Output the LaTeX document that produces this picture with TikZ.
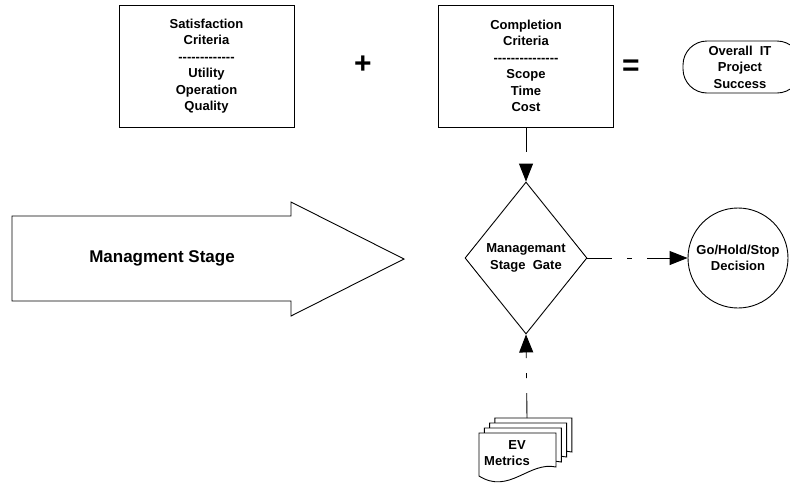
\documentclass[tikz,border=0pt]{standalone}
\usepackage{fontspec}
\setmainfont{Liberation Sans}[Ligatures=TeXOff]
\usetikzlibrary{shapes.geometric, arrows.meta}

\begin{document}
\begin{tikzpicture}[x=1pt, y=-1pt, line width=0.9pt,
	every node/.style={font=\bfseries\fontsize{13}{16.5}\selectfont, align=center},
	criteria/.style={draw, minimum width=175pt, minimum height=122pt, inner sep=0pt},
	sign/.style={font=\bfseries\fontsize{30}{30}\selectfont},
	flow/.style={-{Triangle[length=18pt,width=14pt]}, dash pattern=on 25pt off 15pt on 5pt off 15pt}]
			\useasboundingbox (0,0) rectangle (790,483);
			
			% the two sets of criteria add up to success
			\node[criteria] (satisfaction) at (206.5,66) {Satisfaction\\Criteria\\-------------\\Utility\\Operation\\Quality};
			\node[sign] (plus) at (363,65) {+};
			\node[criteria] (completion) at (526,66) {Completion\\Criteria\\---------------\\Scope\\Time\\Cost};
			\node[sign] (equals) at (631,68) {=};
			\node[draw, rounded corners=24pt, minimum width=118pt, minimum height=52pt, inner sep=0pt] (success) at (742,67) {\hspace*{-4pt}Overall\ \ IT\\\hspace*{-4pt}Project\\\hspace*{-4pt}Success};
			
			% stage arrow
			\draw (12,216) -- (291,216) -- (291,202) -- (404,259) -- (291,316) -- (291,301) -- (12,301) -- cycle;
			\node[font=\bfseries\fontsize{17}{20}\selectfont] (stage) at (162,258) {Managment Stage};
			
			% gate and decision
			\node[draw, diamond, aspect=0.8, minimum width=122pt, minimum height=152pt, inner sep=0pt] (gate) at (526,258) {Managemant\\Stage\ \ Gate};
			\node[draw, circle, minimum size=100pt, inner sep=0pt] (decision) at (738,258) {Go/Hold/Stop\\Decision};
			
			% stack of EV documents, back to front
			\foreach \k in {3,2,1,0}
				\draw[fill=white, shift={({479+5.3*\k},{433-5*\k})}] (0,0) -- (77,0) -- (77,34) .. controls (50,28) and (30,62) .. (0,43) -- cycle;
			\node (metrics) at (507,453) {\hspace*{20pt}EV\\Metrics};
			\coordinate (stacktop) at (527,418);
			
			\draw[flow] (completion.south) -- (gate.north);
			\draw[flow] (gate.east) -- (decision.west);
			\draw[flow] (stacktop) -- (gate.south);
			\end{tikzpicture}
\end{document}
